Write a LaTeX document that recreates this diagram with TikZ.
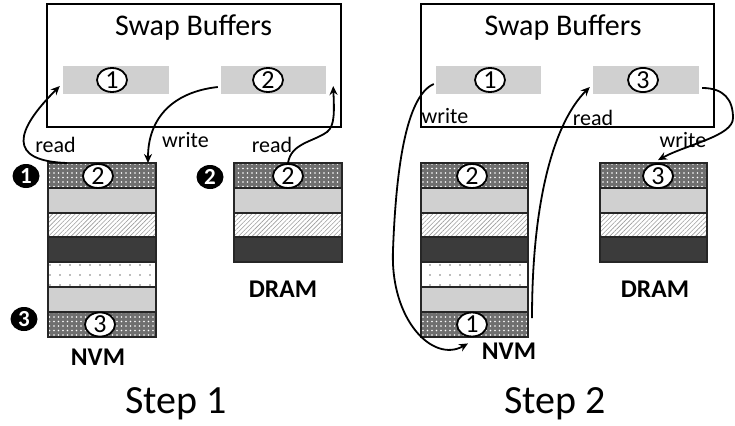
\documentclass[tikz,border=0pt]{standalone}
\usepackage{fontspec}
\setmainfont{Carlito}
\usetikzlibrary{shapes.geometric, patterns.meta, arrows.meta}

\definecolor{bufgray}{HTML}{D0D0D0}
\definecolor{lightrow}{HTML}{D0D0D0}
\definecolor{darkrow}{HTML}{3B3B3B}
\definecolor{dotbg}{HTML}{6F6F6F}
\definecolor{hatchcol}{HTML}{9C9C9C}
\definecolor{sparsecol}{HTML}{7A7A7A}
\definecolor{rowline}{HTML}{262626}

\tikzset{
  swapbox/.style={draw, line width=2.2pt, minimum height=123pt, inner sep=0pt},
  title/.style={anchor=base, inner sep=0pt, font=\fontsize{30}{36}\selectfont},
  steplabel/.style={anchor=base, inner sep=0pt, font=\fontsize{40}{46}\selectfont},
  memlabel/.style={anchor=base, inner sep=0pt, font=\fontsize{25.5}{30}\selectfont\bfseries},
  oplabel/.style={anchor=base, inner sep=0pt, font=\fontsize{22}{26}\selectfont},
  buf/.style={fill=bufgray, minimum height=28pt, inner sep=0pt},
  num/.style={ellipse, draw, fill=white, line width=1.8pt, minimum width=30pt,
              minimum height=24pt, inner sep=0pt, font=\fontsize{26}{26}\selectfont},
  blackmark/.style={ellipse, fill=black, text=white, minimum width=27pt,
              minimum height=24pt, inner sep=0pt, font=\fontsize{23}{23}\selectfont\bfseries},
  row/.style={draw=rowline, line width=2pt, minimum height=24.8pt, inner sep=0pt, outer sep=0pt},
  dotrow/.style={row, preaction={fill=dotbg},
              pattern={Dots[distance=4.5pt, radius=0.85pt]}, pattern color=white},
  lightrow/.style={row, fill=lightrow},
  hatchrow/.style={row, preaction={fill=white},
              pattern={Lines[angle=45, distance=3.2pt, line width=0.6pt]}, pattern color=hatchcol},
  darkrow/.style={row, fill=darkrow},
  sparserow/.style={row, preaction={fill=white},
              pattern={Dots[distance=10pt, radius=0.9pt]}, pattern color=sparsecol},
  arr/.style={-{Stealth[length=9pt, width=8pt]}, line width=1.8pt},
}

\begin{document}
\begin{tikzpicture}[x=1pt, y=-1pt]
\useasboundingbox (0,0) rectangle (735,425);

% ---------------- Step 1 ----------------
\node[swapbox, minimum width=294pt] (box1) at (194,65.5) {};
\node[title] (t1) at (193.5,36) {Swap Buffers};
\node[buf, minimum width=106pt] (buf1a) at (116,80) {};
\node[buf, minimum width=105pt] (buf1b) at (273.5,80) {};
\node[num] (c1a) at (112,80) {1};
\node[num] (c1b) at (268,80) {2};

% NVM column
\foreach \s [count=\i] in {dotrow, lightrow, hatchrow, darkrow, sparserow, lightrow, dotrow}
  \node[\s, minimum width=108pt] (na\i) at (102,{150.6+24.8*\i}) {};
% DRAM column
\foreach \s [count=\i] in {dotrow, lightrow, hatchrow, darkrow}
  \node[\s, minimum width=108pt] (da\i) at (288,{150.6+24.8*\i}) {};

\node[num] (na1c) at (98,176) {2};
\node[num] (na7c) at (100,324.5) {3};
\node[num] (da1c) at (288,176) {2};

\node[blackmark] (m1) at (26,176) {1};
\node[blackmark] (m2) at (210,177) {2};
\node[blackmark] (m3) at (24,319) {3};

\node[memlabel] (nvm1) at (98,365) {NVM};
\node[memlabel] (dram1) at (283,297.5) {DRAM};
\node[steplabel] (step1) at (176,413) {Step 1};

% swaps of step 1
\draw[arr] ([xshift=19pt]na1.north west)
  .. controls +(-60,-2) and +(-45,45) .. ([xshift=-3pt,yshift=-6pt]buf1a.west);
\node[oplabel] (rd1) at (55.5,152) {read};
\draw[arr] ([xshift=-3pt,yshift=-7pt]buf1b.west)
  .. controls +(-45,5) and +(0,-45) .. ([xshift=-8pt]na1.north east);
\node[oplabel] (wr1) at (185.5,147) {write};
\draw[arr] (da1c.north)
  .. controls +(3,-20) and +(-14,10) .. (327,132)
  .. controls +(8,-6) and +(1,25) .. ([xshift=7pt,yshift=-6pt]buf1b.east);
\node[oplabel] (rd2) at (272,152) {read};

% ---------------- Step 2 ----------------
\node[swapbox, minimum width=293pt] (box2) at (567.5,65.5) {};
\node[title] (t2) at (563,36) {Swap Buffers};
\node[buf, minimum width=105pt] (buf2a) at (488.5,80) {};
\node[buf, minimum width=106pt] (buf2b) at (646,80) {};
\node[num] (c2a) at (490,80) {1};
\node[num] (c2b) at (643,80) {3};

\foreach \s [count=\i] in {dotrow, lightrow, hatchrow, darkrow, sparserow, lightrow, dotrow}
  \node[\s, minimum width=107pt] (nb\i) at (474.5,{150.6+24.8*\i}) {};
\foreach \s [count=\i] in {dotrow, lightrow, hatchrow, darkrow}
  \node[\s, minimum width=107pt] (db\i) at (653.5,{150.6+24.8*\i}) {};

\node[num] (nb1c) at (472,176) {2};
\node[num] (nb7c) at (472,324.5) {1};
\node[num] (db1c) at (658,176) {3};

\node[memlabel] (nvm2) at (509,359) {NVM};
\node[memlabel] (dram2) at (655,297.5) {DRAM};
\node[steplabel] (step2) at (555,413) {Step 2};

% swaps of step 2
\draw[arr] ([xshift=-2pt,yshift=-4pt]buf2a.west)
  .. controls +(-28,12) and +(3,-80) .. (393,250)
  .. controls +(-3,70) and +(-35,20) .. ([xshift=-4pt,yshift=-6pt]nb7c.south);
\node[oplabel] (wr2) at (445,124) {write};
\draw[arr] ([xshift=4pt,yshift=6pt]nb7.east)
  .. controls +(0,-120) and +(-35,35) .. ([xshift=-3pt,yshift=-7pt]buf2b.west);
\node[oplabel] (rd3) at (593,125) {read};
\draw[arr] ([xshift=3pt,yshift=-8pt]buf2b.east)
  .. controls +(22,0) and +(0,-18) .. (733,118)
  .. controls +(0,18) and +(30,-16) .. ([yshift=3pt]db1c.north);
\node[oplabel] (wr3) at (683,147) {write};
\end{tikzpicture}
\end{document}
